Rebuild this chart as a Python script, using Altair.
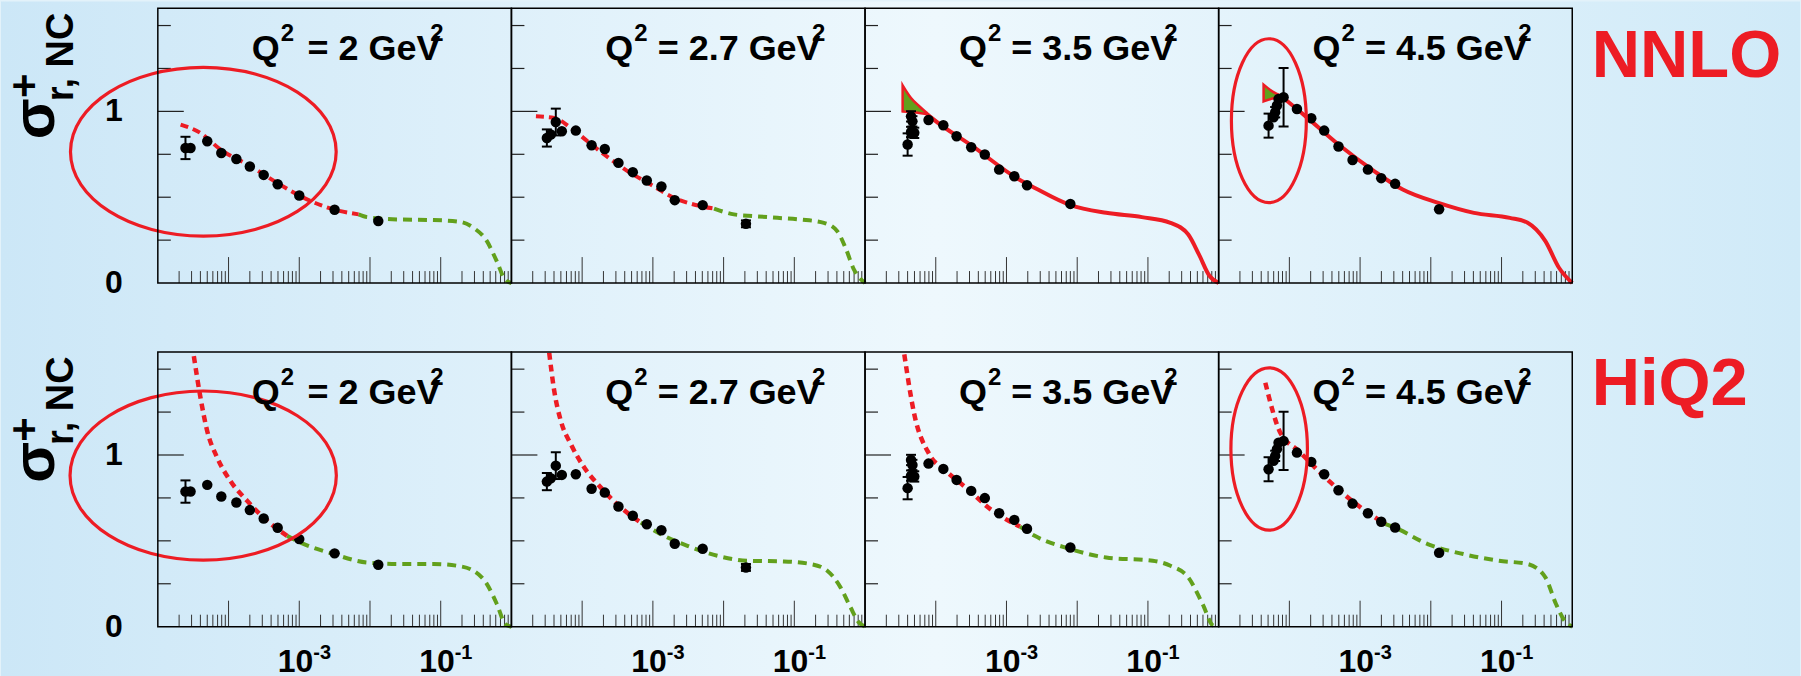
import altair as alt
import pandas as pd

W, H = 354, 275
RED = "#ed1c24"
GREEN = "#62a01c"
FONT = "Liberation Sans"

Q2_LABELS = ["2", "2.7", "3.5", "4.5"]
ROW_LABELS = ["NNLO", "HiQ2"]

# ---- measured data points (same in both rows) ----
DATA_X = [
    [2.46e-5, 2.9e-5, 5.0e-5, 7.9e-5, 1.29e-4, 2.0e-4, 3.14e-4, 4.95e-4, 1.0e-3, 3.16e-3, 1.31e-2],
    [3.17e-5, 3.6e-5, 4.24e-5, 5.16e-5, 8.14e-5, 1.36e-4, 2.09e-4, 3.26e-4, 5.2e-4, 8.2e-4, 1.32e-3, 2.04e-3, 5.06e-3, 2.07e-2],
    [4.0e-5, 4.47e-5, 4.97e-5, 4.68e-5, 4.47e-5, 7.9e-5, 1.28e-4, 1.97e-4, 3.17e-4, 4.94e-4, 7.88e-4, 1.29e-3, 1.95e-3, 8.0e-3],
    [5.08e-5, 5.98e-5, 6.3e-5, 6.67e-5, 7.03e-5, 8.28e-5, 1.28e-4, 2.04e-4, 3.11e-4, 4.95e-4, 7.82e-4, 1.29e-3, 1.99e-3, 3.13e-3, 1.31e-2],
]
DATA_Y = [
    [0.787, 0.787, 0.826, 0.758, 0.723, 0.679, 0.630, 0.576, 0.510, 0.427, 0.361],
    [0.845, 0.865, 0.938, 0.884, 0.888, 0.803, 0.781, 0.700, 0.646, 0.597, 0.562, 0.483, 0.454, 0.345],
    [0.807, 0.880, 0.875, 0.942, 0.971, 0.950, 0.919, 0.855, 0.791, 0.749, 0.661, 0.622, 0.570, 0.461],
    [0.917, 0.966, 0.995, 1.034, 1.072, 1.082, 1.014, 0.960, 0.888, 0.795, 0.717, 0.661, 0.611, 0.578, 0.430],
]
DATA_ERR = [
    [0.065, 0, 0, 0, 0, 0, 0, 0, 0, 0, 0],
    [0.05, 0, 0.078, 0, 0, 0, 0, 0, 0, 0, 0, 0, 0, 0.02],
    [0.065, 0.03, 0.03, 0.03, 0.03, 0, 0, 0, 0, 0, 0, 0, 0, 0],
    [0.07, 0, 0.03, 0, 0, 0.17, 0, 0, 0, 0, 0, 0, 0, 0, 0],
]

# ---- theory curves, NNLO row ----
NNLO_RED_X = [
    [2.10e-5, 4.01e-5, 7.69e-5, 2.04e-4, 4.85e-4, 1.04e-3, 3.06e-3, 6.90e-3],
    [2.22e-5, 4.03e-5, 6.92e-5, 1.19e-4, 2.05e-4, 4.38e-4, 9.33e-4, 2.0e-3, 4.74e-3, 7.33e-3],
    [7.28e-5, 9.0e-5, 3.31e-4, 1.51e-3, 2.52e-3, 8.04e-3, 2.57e-2, 8.22e-2, 0.208, 0.372, 0.526, 0.745, 1.0],
    [7.7e-5, 1.70e-4, 4.95e-4, 1.58e-3, 4.01e-3, 1.28e-2, 4.07e-2, 0.131, 0.234, 0.417, 0.649, 1.0],
]
NNLO_RED_Y = [
    [0.923, 0.874, 0.778, 0.681, 0.584, 0.506, 0.429, 0.40],
    [0.971, 0.962, 0.904, 0.826, 0.749, 0.652, 0.574, 0.496, 0.448, 0.434],
    [0.99, 0.958, 0.797, 0.603, 0.554, 0.454, 0.409, 0.384, 0.351, 0.283, 0.167, 0.041, 0.0],
    [1.088, 0.971, 0.807, 0.652, 0.545, 0.467, 0.409, 0.38, 0.351, 0.244, 0.089, 0.0],
]
NNLO_SOLID = [False, False, True, True]
NNLO_GREEN_X = [
    [6.90e-3, 9.12e-3, 2.68e-2, 7.93e-2, 0.188, 0.290, 0.450, 0.622, 0.815, 1.0],
    [7.33e-3, 1.40e-2, 2.69e-2, 5.75e-2, 0.123, 0.262, 0.405, 0.530, 0.695, 1.0],
    [],
    [],
]
NNLO_GREEN_Y = [
    [0.40, 0.384, 0.370, 0.367, 0.357, 0.322, 0.244, 0.126, 0.019, 0.0],
    [0.434, 0.40, 0.39, 0.38, 0.37, 0.351, 0.302, 0.205, 0.08, 0.0],
    [],
    [],
]
BAND_X = [[], [], [3.4e-5, 4.47e-5, 5.85e-5, 7.28e-5], [4.32e-5, 5.8e-5, 7.7e-5]]
BAND_LO = [[], [], [1.0, 0.997, 0.99, 0.985], [1.058, 1.075, 1.085]]
BAND_HI = [[], [], [1.152, 1.078, 1.03, 0.995], [1.156, 1.115, 1.09]]

# ---- theory curves, HiQ2 row ----
HIQ2_RED_X = [
    [3.23e-5, 4.01e-5, 4.99e-5, 6.90e-5, 1.06e-4, 1.83e-4, 3.51e-4, 6.73e-4],
    [3.42e-5, 4.03e-5, 5.0e-5, 6.92e-5, 1.07e-4, 1.84e-4, 3.52e-4, 6.75e-4],
    [3.59e-5, 4.97e-5, 8.09e-5, 1.39e-4, 2.67e-4, 6.34e-4, 1.55e-3],
    [4.57e-5, 7.45e-5, 1.35e-4, 3.21e-4, 1.18e-3, 2.29e-3],
]
HIQ2_RED_Y = [
    [1.576, 1.334, 1.140, 0.985, 0.849, 0.733, 0.617, 0.529],
    [1.596, 1.373, 1.198, 1.063, 0.927, 0.810, 0.694, 0.607],
    [1.586, 1.237, 1.005, 0.907, 0.810, 0.675, 0.583],
    [1.421, 1.130, 1.024, 0.869, 0.675, 0.597],
]
HIQ2_GREEN_X = [
    [6.73e-4, 1.04e-3, 3.06e-3, 9.08e-3, 2.68e-2, 7.94e-2, 0.169, 0.290, 0.450, 0.622, 0.815, 1.0],
    [6.75e-4, 1.29e-3, 3.08e-3, 8.17e-3, 2.17e-2, 7.13e-2, 0.170, 0.292, 0.450, 0.624, 0.817, 1.0],
    [1.55e-3, 2.51e-3, 8.04e-3, 2.57e-2, 0.117, 0.208, 0.372, 0.593, 0.839, 1.0],
    [2.29e-3, 3.18e-3, 9.04e-3, 2.88e-2, 9.2e-2, 0.234, 0.417, 0.589, 0.794, 1.0],
]
HIQ2_GREEN_Y = [
    [0.529, 0.490, 0.423, 0.374, 0.365, 0.365, 0.355, 0.326, 0.248, 0.132, 0.016, 0.0],
    [0.607, 0.539, 0.471, 0.413, 0.384, 0.380, 0.365, 0.326, 0.229, 0.112, 0.025, 0.0],
    [0.583, 0.529, 0.452, 0.403, 0.384, 0.355, 0.287, 0.132, 0.006, 0.0],
    [0.597, 0.575, 0.481, 0.423, 0.384, 0.365, 0.287, 0.132, 0.03, 0.0],
]

# ---- red ellipses (row, col): centre x, centre sigma, radii in px ----
ELLIPSES = {
    (0, 0): (4.40e-5, 0.765, 133.0, 84.5),
    (1, 0): (4.38e-5, 0.880, 133.3, 84.7),
    (0, 3): (5.13e-5, 0.946, 37.5, 82.0),
    (1, 3): (5.18e-5, 1.035, 38.3, 81.3),
}

# axis decorations
X_MAJOR = [1e-4, 1e-3, 1e-2, 1e-1]
X_MINOR = [m * 10.0 ** k for k in range(-5, 0) for m in range(2, 10)]
Y_MINOR = [0.25, 0.5, 0.75, 1.25, 1.5]
Y_MAJOR = [1.0]
X_LABELS = [1e-3, 1e-1]
X_LABEL_EXP = ["-3", "-1"]

TITLE_END = [283, 309.5, 309.5, 309.5]
TITLE_SUP = [272.7, 301, 299.5, 300]

XS = alt.Scale(type="log", domain=[1e-5, 1.0], nice=False)
YS = alt.Scale(domain=[0, 1.6], nice=False)


def xe(f):
    return alt.X(f"{f}:Q", scale=XS, axis=None)


def ye(f):
    return alt.Y(f"{f}:Q", scale=YS, axis=None)


ONE = pd.DataFrame({"k": [0]})


def txt(text, x, y, size, align="left", angle=None, color="black"):
    kw = dict(text=text, font=FONT, fontWeight="bold", fontSize=size,
              align=align, baseline="alphabetic", color=color)
    if angle is not None:
        kw["angle"] = angle
    return alt.Chart(ONE).mark_text(**kw).encode(x=alt.value(x), y=alt.value(y))


def ellipse_path(ax, ay):
    k = 0.5523
    f = lambda v: f"{v:.4f}"
    return (f"M{f(-ax)},0 C{f(-ax)},{f(-k*ay)} {f(-k*ax)},{f(-ay)} 0,{f(-ay)} "
            f"C{f(k*ax)},{f(-ay)} {f(ax)},{f(-k*ay)} {f(ax)},0 "
            f"C{f(ax)},{f(k*ay)} {f(k*ax)},{f(ay)} 0,{f(ay)} "
            f"C{f(-k*ax)},{f(ay)} {f(-ax)},{f(k*ay)} {f(-ax)},0 Z")


def line_layer(xs, ys, color, width, dash=None):
    df = pd.DataFrame({"x": xs, "y": ys, "o": list(range(len(xs)))})
    kw = dict(color=color, strokeWidth=width, interpolate="monotone")
    if dash:
        kw["strokeDash"] = dash
    return alt.Chart(df).mark_line(**kw).encode(x=xe("x"), y=ye("y"), order="o:Q")


def panel(r, c):
    layers = []
    if r == 0 and c == 0:
        grad = alt.LinearGradient(
            gradient="linear", x1=0, x2=1, y1=0, y2=0,
            stops=[alt.GradientStop(color="#cce7f7", offset=0),
                   alt.GradientStop(color="#eef8fd", offset=0.52),
                   alt.GradientStop(color="#d0eaf8", offset=1)])
        layers.append(alt.Chart(ONE).mark_rect(fill=grad).encode(
            x=alt.value(-157), x2=alt.value(1644), y=alt.value(-7), y2=alt.value(669)))
    # ticks
    layers.append(alt.Chart(pd.DataFrame({"t": X_MINOR})).mark_rule(color="#333", strokeWidth=1).encode(
        x=xe("t"), y=alt.value(H), y2=alt.value(H - 12)))
    layers.append(alt.Chart(pd.DataFrame({"t": X_MAJOR})).mark_rule(color="#333", strokeWidth=1).encode(
        x=xe("t"), y=alt.value(H), y2=alt.value(H - 26)))
    layers.append(alt.Chart(pd.DataFrame({"t": Y_MINOR})).mark_rule(color="#222", strokeWidth=1.2).encode(
        y=ye("t"), x=alt.value(0), x2=alt.value(13)))
    layers.append(alt.Chart(pd.DataFrame({"t": Y_MAJOR})).mark_rule(color="#222", strokeWidth=1.2).encode(
        y=ye("t"), x=alt.value(0), x2=alt.value(26)))

    # curves
    if r == 0:
        if NNLO_GREEN_X[c]:
            layers.append(line_layer(NNLO_GREEN_X[c], NNLO_GREEN_Y[c], GREEN, 4, [9, 6]))
        if BAND_X[c]:
            bdf = pd.DataFrame({"x": BAND_X[c], "lo": BAND_LO[c], "hi": BAND_HI[c]})
            layers.append(alt.Chart(bdf).mark_area(fill=GREEN, stroke=RED, strokeWidth=2.5, opacity=1,
                                                   interpolate="monotone").encode(
                x=xe("x"), y=ye("lo"), y2=alt.Y2("hi:Q")))
        if NNLO_SOLID[c]:
            layers.append(line_layer(NNLO_RED_X[c], NNLO_RED_Y[c], RED, 4))
        else:
            layers.append(line_layer(NNLO_RED_X[c], NNLO_RED_Y[c], RED, 4, [8, 5]))
    else:
        layers.append(line_layer(HIQ2_GREEN_X[c], HIQ2_GREEN_Y[c], GREEN, 4, [9, 6]))
        layers.append(line_layer(HIQ2_RED_X[c], HIQ2_RED_Y[c], RED, 4.5, [7, 5]))

    # data with error bars
    ddf = pd.DataFrame({"x": DATA_X[c], "y": DATA_Y[c], "e": DATA_ERR[c]})
    edf = ddf[ddf["e"] > 0].copy()
    edf["lo"] = edf["y"] - edf["e"]
    edf["hi"] = edf["y"] + edf["e"]
    caps = pd.DataFrame({"x": list(edf["x"]) * 2, "v": list(edf["lo"]) + list(edf["hi"])})
    layers.append(alt.Chart(edf).mark_rule(color="black", strokeWidth=2).encode(
        x=xe("x"), y=ye("lo"), y2=alt.Y2("hi:Q")))
    layers.append(alt.Chart(caps).mark_tick(color="black", orient="horizontal", size=10, thickness=2,
                                            opacity=1).encode(x=xe("x"), y=ye("v")))
    layers.append(alt.Chart(ddf).mark_circle(color="black", size=110, opacity=1).encode(
        x=xe("x"), y=ye("y")))

    # ellipse annotation
    if (r, c) in ELLIPSES:
        ex, ey, rx, ry = ELLIPSES[(r, c)]
        m = max(rx, ry)
        path = ellipse_path(rx / m, ry / m)
        layers.append(alt.Chart(pd.DataFrame({"x": [ex], "y": [ey]})).mark_point(
            shape=path, size=(2 * m) ** 2, filled=False, stroke=RED, strokeWidth=3.2, opacity=1).encode(
            x=xe("x"), y=ye("y")))

    # panel title
    layers.append(txt("Q", 94, 52, 36))
    layers.append(txt("2", 123, 33, 24))
    layers.append(txt(f"= {Q2_LABELS[c]} GeV", TITLE_END[c], 52, 36, align="right"))
    layers.append(txt("2", TITLE_SUP[c], 33, 24))

    # y axis labels and title
    if c == 0:
        layers.append(alt.Chart(pd.DataFrame({"t": [0.0, 1.0], "s": ["0", "1"]})).mark_text(
            font=FONT, fontWeight="bold", fontSize=32, align="center", baseline="middle", color="black").encode(
            x=alt.value(-44), y=ye("t"), text="s:N"))
        layers.append(txt("\u03c3", -104.3, 110.5, 60, align="center", angle=270))
        layers.append(txt("+", -119.8, 77.5, 42, align="center", angle=270))
        layers.append(txt("r, NC", -85.3, 93, 38, align="left", angle=270))

    # x axis labels
    if r == 1:
        ldf = pd.DataFrame({"t": X_LABELS, "e": X_LABEL_EXP})
        layers.append(alt.Chart(ldf).mark_text(
            text="10", font=FONT, fontWeight="bold", fontSize=32, align="right", baseline="alphabetic",
            dx=14, color="black").encode(x=xe("t"), y=alt.value(320.7)))
        layers.append(alt.Chart(ldf).mark_text(
            font=FONT, fontWeight="bold", fontSize=20, align="left", baseline="alphabetic",
            dx=14, color="black").encode(x=xe("t"), y=alt.value(307), text="e:N"))

    # row label
    if c == 3:
        layers.append(txt(ROW_LABELS[r], 373.4, 69 if r == 0 else 53, 67, color=RED))

    # frame
    layers.append(alt.Chart(ONE).mark_rect(fillOpacity=0, stroke="black", strokeWidth=1.5).encode(
        x=alt.value(0), x2=alt.value(W), y=alt.value(0), y2=alt.value(H)))

    return alt.layer(*layers).properties(width=W, height=H)


panels = [panel(r, c) for r in range(2) for c in range(4)]
chart = (
    alt.concat(*panels, columns=4, spacing={"row": 69, "column": 0}, bounds="flush")
    .properties(padding=0, background="#e3f2fa")
    .configure_view(stroke="transparent")
)
chart.save("out.html", embed_options={"renderer": "svg", "actions": False})
